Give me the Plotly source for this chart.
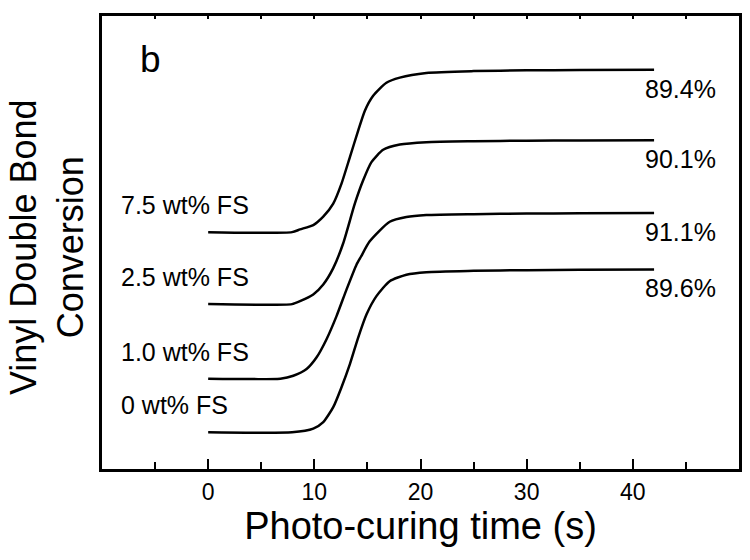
import plotly.graph_objects as go

# ---- data ----
series_names = ["0 wt% FS", "1.0 wt% FS", "2.5 wt% FS", "7.5 wt% FS"]
final_labels = ["89.6%", "91.1%", "90.1%", "89.4%"]

time_0 = [0, 7.9, 9.9, 10.84, 11.78, 12.56, 13.35, 14.13, 14.92, 15.85, 17.1, 18.67, 20.55, 25, 30, 35, 42]
conv_0 = [0, 0, 2.0, 5.6, 13.8, 24.8, 37.5, 52.1, 64.9, 74.9, 83.1, 86.7, 88.1, 88.8, 89.2, 89.4, 89.6]

time_10 = [0, 6.8, 8.02, 9.27, 10.2, 11.15, 12.09, 13.03, 13.97, 14.4, 15.2, 17.1, 18.67, 20.55, 25, 30, 35, 42]
conv_10 = [0, 0, 1.6, 5.3, 11.6, 21.7, 34.4, 49.0, 62.7, 67.2, 75.4, 86.3, 88.9, 90.0, 90.5, 90.8, 91.0, 91.1]

time_25 = [0, 7.9, 8.65, 9.9, 10.84, 11.78, 12.72, 13.82, 14.6, 15.38, 16.48, 18.05, 20.55, 25, 30, 35, 42]
conv_25 = [0, 0, 1.6, 5.3, 10.8, 19.8, 33.5, 55.4, 68.1, 78.1, 84.9, 87.8, 89.1, 89.6, 89.9, 90.0, 90.1]

time_75 = [0, 7.9, 8.65, 9.9, 10.84, 11.78, 12.56, 13.35, 14.13, 14.76, 15.54, 16.79, 18.05, 20.55, 25, 30, 35, 42]
conv_75 = [0, 0, 1.5, 3.9, 8.5, 15.7, 26.7, 41.3, 55.8, 66.8, 75.0, 82.2, 85.0, 87.6, 88.6, 89.0, 89.2, 89.4]

# vertical stacking offset of each curve (in conversion-% units)
stack_offset = [20.2, 49.7, 90.7, 130.3]

x_tick_vals = [0, 10, 20, 30, 40]
x_minor_vals = [-5, 5, 15, 25, 35, 45]

times = [time_0, time_10, time_25, time_75]
convs = [conv_0, conv_10, conv_25, conv_75]

FONT = "Arial, Liberation Sans, sans-serif"

fig = go.Figure()
for name, t, c, off in zip(series_names, times, convs, stack_offset):
    fig.add_trace(go.Scatter(
        x=t, y=[v + off for v in c], mode="lines", name=name,
        line=dict(color="black", width=2.5, shape="spline", smoothing=0.6),
        showlegend=False, hoverinfo="skip"))

# helper invisible trace for top axis ticks
fig.add_trace(go.Scatter(x=[0], y=[0], xaxis="x2", mode="markers",
                         marker=dict(opacity=0), showlegend=False, hoverinfo="skip"))

annotations = []
for name, lab, t, c, off in zip(series_names, final_labels, times, convs, stack_offset):
    annotations.append(dict(x=0, y=off, xref="x", yref="y", text=name, showarrow=False,
                            xanchor="left", yanchor="middle", xshift=-89, yshift=27,
                            font=dict(family=FONT, size=25, color="black")))
    annotations.append(dict(x=t[-1], y=c[-1] + off, xref="x", yref="y", text=lab, showarrow=False,
                            xanchor="left", yanchor="middle", xshift=-11, yshift=-19,
                            font=dict(family=FONT, size=25, color="black")))
annotations.append(dict(x=-5.45, y=0.905, xref="x", yref="paper", text="b", showarrow=False,
                        xanchor="center", yanchor="middle",
                        font=dict(family=FONT, size=37, color="black")))
annotations.append(dict(x=0, y=0.49, xref="paper", yref="paper",
                        text="Vinyl Double Bond<br>Conversion", showarrow=False,
                        textangle=-90, xanchor="right", yanchor="middle", xshift=-9,
                        font=dict(family=FONT, size=36, color="black")))

fig.update_layout(
    width=750, height=560,
    margin=dict(l=94, r=19, t=5, b=99),
    paper_bgcolor="white", plot_bgcolor="white",
    font=dict(family=FONT, color="black"),
    xaxis=dict(range=[-10, 50], showgrid=False, zeroline=False,
               showline=True, linecolor="black", linewidth=3, mirror=True,
               ticks="inside", ticklen=10, tickwidth=2, tickcolor="black",
               tickvals=x_tick_vals, ticktext=[str(v) for v in x_tick_vals],
               tickfont=dict(family=FONT, size=23, color="black"),
               minor=dict(ticks="inside", ticklen=7, tickwidth=2, tickcolor="black",
                          tickvals=x_minor_vals, showgrid=False),
               title=dict(text="Photo-curing time (s)", standoff=6,
                          font=dict(family=FONT, size=38, color="black"))),
    xaxis2=dict(overlaying="x", side="top", matches="x", showgrid=False, zeroline=False,
                showline=False, ticks="inside", ticklen=3, tickwidth=2, tickcolor="black",
                tickvals=x_minor_vals + x_tick_vals, showticklabels=False),
    yaxis=dict(range=[0, 249.2], showgrid=False, zeroline=False,
               showline=True, linecolor="black", linewidth=2.5, mirror=True,
               ticks="", showticklabels=False),
    annotations=annotations,
)

fig.write_html("out.html")
